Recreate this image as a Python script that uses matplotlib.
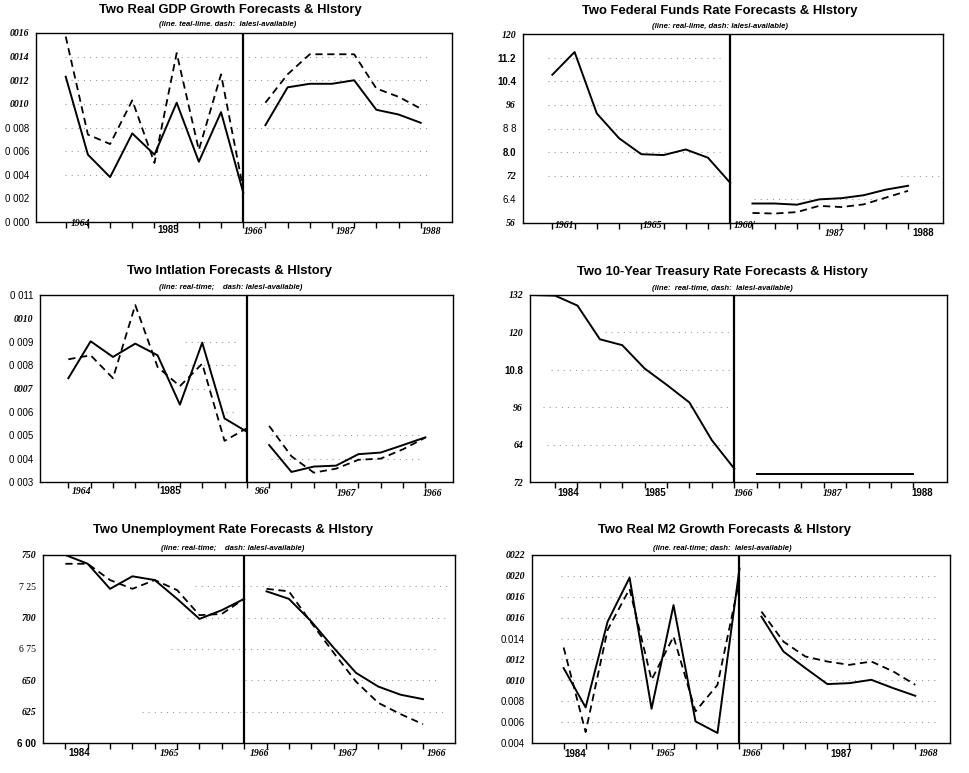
import numpy as np
import matplotlib
matplotlib.use("Agg")
import matplotlib.pyplot as plt
from matplotlib import transforms

# ---------------- data ----------------
hist_q = list(range(-1, 9))      # history quarters (index -1 .. 8)
fc_q = list(range(9, 17))        # forecast quarters (index 9 .. 16)

# Real GDP growth
gdp_rt_hist = [None, 0.0123, 0.0057, 0.0038, 0.0075, 0.0057, 0.0101, 0.0051, 0.0093, 0.0025]
gdp_la_hist = [None, 0.0157, 0.0074, 0.0066, 0.0103, 0.0050, 0.0143, 0.0061, 0.0125, 0.0028]
gdp_rt_fc = [0.0082, 0.0114, 0.0117, 0.0117, 0.0120, 0.0095, 0.0091, 0.0084]
gdp_la_fc = [0.0101, 0.0125, 0.0142, 0.0142, 0.0142, 0.0113, 0.0106, 0.0096]

# Federal funds rate
ff_rt_hist = [None, 10.62, 11.39, 9.31, 8.47, 7.93, 7.90, 8.09, 7.81, 6.96]
ff_la_hist = [None, None, None, None, None, None, None, None, None, None]
ff_rt_fc = [6.26, 6.26, 6.22, 6.40, 6.44, 6.54, 6.73, 6.86]
ff_la_fc = [5.94, 5.92, 5.97, 6.18, 6.14, 6.23, 6.46, 6.69]

# Inflation
inf_rt_hist = [None, 0.00744, 0.00902, 0.00835, 0.00892, 0.00842, 0.00631, 0.00896, 0.00572, 0.00515]
inf_la_hist = [None, 0.00825, 0.00842, 0.00744, 0.01057, 0.00792, 0.00710, 0.00806, 0.00476, 0.00530]
inf_rt_fc = [0.00458, 0.00343, 0.00366, 0.00370, 0.00419, 0.00426, 0.00458, 0.00491]
inf_la_fc = [0.00540, 0.00410, 0.00340, 0.00357, 0.00395, 0.00400, 0.00440, 0.00490]

# 10-year Treasury rate
tr_rt_hist = [13.20, 13.18, 12.86, 11.78, 11.59, 10.84, 10.31, 9.75, 8.54, 7.63]
tr_la_hist = [None, None, None, None, None, None, None, None, None, None]
tr_rt_fc = [7.47, 7.47, 7.47, 7.47, 7.47, 7.47, 7.47, 7.47]
tr_la_fc = [None, None, None, None, None, None, None, None]

# Unemployment rate
un_rt_hist = [7.50, 7.50, 7.43, 7.23, 7.33, 7.30, 7.15, 6.99, 7.06, 7.15]
un_la_hist = [None, 7.43, 7.43, 7.30, 7.23, 7.30, 7.22, 7.02, 7.03, 7.15]
un_rt_fc = [7.21, 7.15, 6.97, 6.76, 6.56, 6.45, 6.385, 6.35]
un_la_fc = [7.23, 7.21, 6.96, 6.72, 6.49, 6.32, 6.23, 6.15]

# Real M2 growth
m2_rt_hist = [None, 0.01117, 0.00741, 0.01562, 0.01983, 0.00728, 0.01720, 0.00607, 0.00496, 0.02070]
m2_la_hist = [None, 0.01314, 0.00505, 0.01483, 0.01875, 0.01005, 0.01419, 0.00703, 0.00957, 0.01960]
m2_rt_fc = [0.01610, 0.01276, 0.01117, 0.00964, 0.00973, 0.01005, 0.00925, 0.00852]
m2_la_fc = [0.01658, 0.01371, 0.01228, 0.01180, 0.01148, 0.01180, 0.01085, 0.00957]

titles = [
    "Two Real GDP Growth Forecasts & Hlstory",
    "Two Federal Funds Rate Forecasts & Hlstory",
    "Two Intlation Forecasts & Hlstory",
    "Two 10-Year Treasury Rate Forecasts & History",
    "Two Unemployment Rate Forecasts & Hlstory",
    "Two Real M2 Growth Forecasts & Hlstory",
]
subtitles = [
    "(line. teal-lime. dash:  lalesl-available)",
    "(line: real-lime, dash: lalesl-available)",
    "(line: real-time;    dash: lalesl-available)",
    "(line:  real-time, dash:  lalesl-available)",
    "(line: real-time;    dash: lalesl-available)",
    "(line. real-time; dash:  lalesl-available)",
]

gdp_yticks = [0.016, 0.014, 0.012, 0.010, 0.008, 0.006, 0.004, 0.002, 0.000]
gdp_ylabels = ["0016", "0014", "0012", "0010", "0 008", "0 006", "0 004", "0 002", "0 000"]
ff_yticks = [12.0, 11.2, 10.4, 9.6, 8.8, 8.0, 7.2, 6.4, 5.6]
ff_ylabels = ["120", "11.2", "10.4", "96", "8 8", "8.0", "72", "6.4", "56"]
inf_yticks = [0.011, 0.010, 0.009, 0.008, 0.007, 0.006, 0.005, 0.004, 0.003]
inf_ylabels = ["0 011", "0010", "0 009", "0 008", "0007", "0 006", "0 005", "0 004", "0 003"]
tr_yticks = [13.2, 12.0, 10.8, 9.6, 8.4, 7.2]
tr_ylabels = ["132", "120", "10.8", "96", "64", "72"]
un_yticks = [7.50, 7.25, 7.00, 6.75, 6.50, 6.25, 6.00]
un_ylabels = ["750", "7 25", "700", "6 75", "650", "625", "6 00"]
m2_yticks = [0.022, 0.020, 0.018, 0.016, 0.014, 0.012, 0.010, 0.008, 0.006, 0.004]
m2_ylabels = ["0022", "0020", "0016", "0016", "0.014", "0012", "0010", "0.008", "0.006", "0.004"]

gdp_years = ["1964", "1985", "1966", "1987", "1988"]
ff_years = ["1961", "1965", "1960'", "1987", "1988"]
inf_years = ["1964", "1985", "966", "1967", "1966"]
tr_years = ["1984", "1985", "1966", "1987", "1988"]
un_years = ["1984", "1965", "1966", "1967", "1966"]
m2_years = ["1984", "1965", "1966", "1987", "1968"]

# ---------------- styling helpers ----------------
W, H = 970, 773
fig = plt.figure(figsize=(W / 100, H / 100), dpi=100)
fig.patch.set_facecolor("white")


def style(t, code, size=7):
    if code == "s":      # serif bold italic
        t.set_fontfamily("Liberation Serif"); t.set_fontstyle("italic"); t.set_fontweight("bold")
    elif code == "r":    # serif plain
        t.set_fontfamily("Liberation Serif"); t.set_fontstyle("normal"); t.set_fontweight("normal")
    elif code == "b":    # sans bold
        t.set_fontfamily("Liberation Sans"); t.set_fontweight("bold")
    else:                # sans plain
        t.set_fontfamily("Liberation Sans"); t.set_fontweight("normal")
    t.set_fontsize(size)


def series(vals):
    return np.array([np.nan if v is None else v for v in vals], dtype=float)


def panel(box, xlim, ylim, yt, ylab, ystyle, hist, fc, years, yx, ydy, ystl,
          grids, title, sub, tpos, spos):
    l, r, t, b = box
    ax = fig.add_axes([l / W, 1 - b / H, (r - l) / W, (b - t) / H])
    ax.set_xlim(*xlim)
    ax.set_ylim(*ylim)
    for v, x0, x1 in grids:
        ax.axhline(v, xmin=x0, xmax=x1, color="#9a9a9a", lw=0.8,
                   linestyle=(0, (1, 4.5)), zorder=1)
    rt_h, la_h = hist
    rt_f, la_f = fc
    ax.plot(hist_q, series(la_h), color="black", lw=1.3, dashes=(4, 2.6), zorder=3)
    ax.plot(fc_q, series(la_f), color="black", lw=1.3, dashes=(4, 2.6), zorder=3)
    ax.plot(hist_q, series(rt_h), color="black", lw=1.4, zorder=4)
    ax.plot(fc_q, series(rt_f), color="black", lw=1.4, zorder=4)
    ax.axvline(8, color="black", lw=1.6, zorder=5)
    for s in ax.spines.values():
        s.set_linewidth(1.0)
    ax.set_yticks(yt)
    ax.set_yticklabels(ylab)
    ax.tick_params(axis="y", length=0, pad=5)
    for tl, c in zip(ax.get_yticklabels(), ystyle):
        style(tl, c, 7)
    ax.set_xticks(list(range(0, 17)))
    ax.set_xticklabels([])
    ax.tick_params(axis="x", direction="out", length=4, width=1.0)
    hpx = b - t
    tr = transforms.blended_transform_factory(ax.transData, ax.transAxes)
    for txt, x, dy, c in zip(years, yx, ydy, ystl):
        tt = ax.text(x, -dy / hpx, txt, transform=tr, ha="center", va="center")
        style(tt, c, 7)
    fig.text(tpos[0] / W, 1 - tpos[1] / H, title, ha="center", va="center",
             fontsize=9.4, fontweight="bold", family="Liberation Sans")
    fig.text(spos[0] / W, 1 - spos[1] / H, sub, ha="center", va="center",
             fontsize=5.6, fontweight="bold", fontstyle="italic", family="Liberation Sans")
    return ax


# Panel 1: GDP
panel((36, 452, 33, 222), (-1.34, 17.41), (0.0, 0.016), gdp_yticks, gdp_ylabels,
      ["s", "s", "s", "s", "a", "a", "a", "a", "a"],
      (gdp_rt_hist, gdp_la_hist), (gdp_rt_fc, gdp_la_fc),
      gdp_years, [0.65, 4.63, 8.47, 12.6, 16.5], [1, 8, 9, 9, 9], ["s", "b", "s", "s", "s"],
      [(v, 0.07, 0.95) for v in [0.014, 0.012, 0.010, 0.008, 0.006, 0.004]],
      titles[0], subtitles[0], (230, 10), (228, 25))

# Panel 2: Fed funds
panel((523, 943, 34, 223), (-1.32, 17.57), (5.6, 12.0), ff_yticks, ff_ylabels,
      ["s", "b", "b", "s", "a", "b", "s", "a", "s"],
      (ff_rt_hist, ff_la_hist), (ff_rt_fc, ff_la_fc),
      ff_years, [0.55, 4.5, 8.65, 12.67, 16.67], [3, 3, 3, 10, 10], ["s", "s", "s", "s", "b"],
      [(v, 0.06, 0.47) for v in [11.2, 10.4, 9.6, 8.8, 8.0, 7.2]] + [(7.2, 0.9, 0.99), (6.4, 0.55, 0.87)],
      titles[1], subtitles[1], (720, 11), (720, 27))

# Panel 3: Inflation
panel((40, 453, 295, 482), (-1.27, 17.24), (0.003, 0.011), inf_yticks, inf_ylabels,
      ["a", "s", "a", "a", "s", "a", "a", "a", "a"],
      (inf_rt_hist, inf_la_hist), (inf_rt_fc, inf_la_fc),
      inf_years, [0.6, 4.55, 8.7, 12.46, 16.3], [9, 9, 9, 11, 11], ["s", "b", "s", "s", "s"],
      [(0.009, 0.35, 0.48), (0.008, 0.35, 0.48), (0.007, 0.35, 0.48), (0.006, 0.45, 0.48),
       (0.005, 0.56, 0.92), (0.004, 0.56, 0.92)],
      titles[2], subtitles[2], (230, 271), (231, 287))

# Panel 4: Treasury
panel((530, 947, 295, 482), (-1.12, 17.5), (7.2, 13.2), tr_yticks, tr_ylabels,
      ["s", "s", "b", "s", "s", "s"],
      (tr_rt_hist, tr_la_hist), (tr_rt_fc, tr_la_fc),
      tr_years, [0.6, 4.46, 8.4, 12.4, 16.4], [11, 11, 11, 11, 11], ["b", "b", "s", "s", "b"],
      [(12.0, 0.18, 0.48), (10.8, 0.05, 0.48), (9.6, 0.03, 0.48), (8.4, 0.04, 0.48)],
      titles[3], subtitles[3], (722, 272), (722, 288))

# Panel 5: Unemployment
panel((43, 455, 555, 743), (-1.0, 17.43), (6.0, 7.5), un_yticks, un_ylabels,
      ["s", "r", "s", "r", "s", "s", "b"],
      (un_rt_hist, un_la_hist), (un_rt_fc, un_la_fc),
      un_years, [0.64, 4.67, 8.7, 12.6, 16.6], [10, 10, 10, 10, 10], ["b", "s", "s", "s", "s"],
      [(7.25, 0.37, 0.98), (7.00, 0.35, 0.98), (6.75, 0.31, 0.96), (6.50, 0.49, 0.96), (6.25, 0.24, 0.98)],
      titles[4], subtitles[4], (233, 530), (233, 548))

# Panel 6: Real M2
panel((532, 950, 555, 743), (-1.44, 17.58), (0.004, 0.022), m2_yticks, m2_ylabels,
      ["s", "s", "s", "s", "a", "s", "s", "a", "a", "a"],
      (m2_rt_hist, m2_la_hist), (m2_rt_fc, m2_la_fc),
      m2_years, [0.53, 4.62, 8.56, 12.65, 16.6], [11, 11, 11, 11, 11], ["b", "s", "s", "b", "s"],
      [(v, 0.07, 0.97) for v in [0.020, 0.018, 0.016, 0.014, 0.012, 0.010, 0.008, 0.006]],
      titles[5], subtitles[5], (725, 530), (722, 548))

fig.savefig("out.png", dpi=100, facecolor="white")
